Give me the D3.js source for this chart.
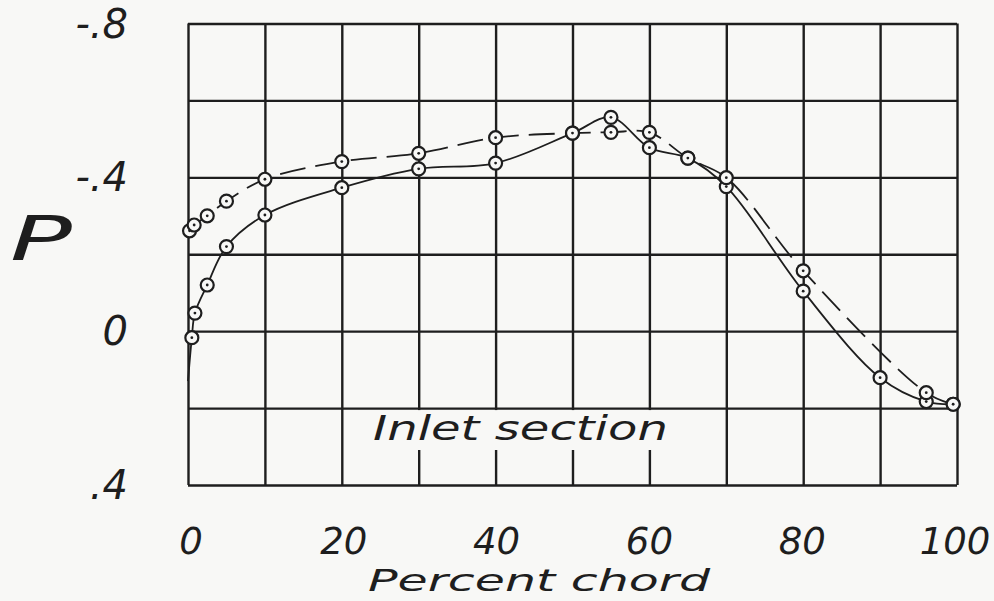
<!DOCTYPE html>
<html>
<head>
<meta charset="utf-8">
<script src="https://cdn.jsdelivr.net/npm/d3@7"></script>
<style>
  body { margin: 0; background: #f8f8f6; }
  svg { display: block; }
  text { font-family: "DejaVu Sans", sans-serif; font-style: oblique; fill: #1e1e1e; }
</style>
</head>
<body>
<div id="chart"></div>
<script>
// percent chord / pressure coefficient P
const solidChord = [0, 0.5, 0.9, 2.5, 5, 10, 20, 30, 40, 50, 55, 60, 65, 70, 80, 90, 96, 99.5];
const solidP = [0.13, 0.017, -0.047, -0.12, -0.22, -0.302, -0.373, -0.422, -0.437, -0.515, -0.556, -0.477, -0.45, -0.376, -0.104, 0.121, 0.183, 0.19];
const solidMarked = [false, true, true, true, true, true, true, true, true, true, true, true, true, true, true, true, true, true];

const dashedChord = [0.2, 0.8, 2.5, 5, 10, 20, 30, 40, 50, 55, 60, 65, 70, 80, 96, 99.5];
const dashedP = [-0.261, -0.276, -0.30, -0.338, -0.395, -0.441, -0.4625, -0.503, -0.515, -0.517, -0.517, -0.45, -0.399, -0.157, 0.160, 0.19];

const xGrid = [0, 10, 20, 30, 40, 50, 60, 70, 80, 90, 100];
const yGrid = [-0.8, -0.6, -0.4, -0.2, 0, 0.2, 0.4];
const xLabels = [0, 20, 40, 60, 80, 100];
const yLabels = [-0.8, -0.4, 0, 0.4];
const yLabelText = ["-.8", "-.4", "0", ".4"];

const W = 994, H = 601;
const ink = "#1e1e1e";
const paper = "#f8f8f6";

const svg = d3.select("#chart").append("svg")
    .attr("width", W)
    .attr("height", H);

const x = d3.scaleLinear().domain([0, 100]).range([188, 957]);
const y = d3.scaleLinear().domain([-0.8, 0.4]).range([23.5, 485]);

// grid
svg.append("g")
    .attr("transform", `translate(0, ${y(0.4)})`)
    .call(d3.axisBottom(x).tickValues(xGrid).tickSize(-(y(0.4) - y(-0.8))).tickFormat(""))
    .call(g => g.select(".domain").remove())
    .selectAll("line").attr("stroke", ink).attr("stroke-width", 2.4);

svg.append("g")
    .attr("transform", `translate(${x(0)}, 0)`)
    .call(d3.axisLeft(y).tickValues(yGrid).tickSize(-(x(100) - x(0))).tickFormat(""))
    .call(g => g.select(".domain").remove())
    .selectAll("line").attr("stroke", ink).attr("stroke-width", 2.4);

// labels
svg.append("g").selectAll("text")
    .data(xLabels)
    .join("text")
    .attr("x", d => x(d) + 3 - d * 0.05)
    .attr("y", 554)
    .attr("text-anchor", "middle")
    .attr("font-size", 37)
    .attr("font-weight", 300)
    .text(d => d);

svg.append("g").selectAll("text")
    .data(yLabels)
    .join("text")
    .attr("x", 128)
    .attr("y", d => y(d) + 14)
    .attr("text-anchor", "end")
    .attr("font-size", 40)
    .attr("font-weight", 300)
    .text((d, i) => yLabelText[i]);

svg.append("text")
    .attr("x", 10)
    .attr("y", 260)
    .attr("font-size", 60)
    .attr("font-weight", 300)
    .attr("textLength", 62)
    .attr("lengthAdjust", "spacingAndGlyphs")
    .text("P");

svg.append("text")
    .attr("x", 368)
    .attr("y", 591)
    .attr("font-size", 31)
    .attr("font-weight", 300)
    .attr("textLength", 342)
    .attr("lengthAdjust", "spacingAndGlyphs")
    .text("Percent chord");

// "Inlet section" sits on a blank patch of the grid
const note = svg.append("g");
const noteRect = note.append("rect").attr("fill", paper);
const noteText = note.append("text")
    .attr("x", 373)
    .attr("y", 440)
    .attr("font-size", 34)
    .attr("font-weight", 300)
    .attr("textLength", 295)
    .attr("lengthAdjust", "spacingAndGlyphs")
    .text("Inlet section");
const box = noteText.node().getBBox();
noteRect.attr("x", box.x - 20).attr("y", y(0.2) + 2)
    .attr("width", box.width + 40).attr("height", box.y + box.height - y(0.2));

// curves
const line = d3.line()
    .x(d => x(d[0]))
    .y(d => y(d[1]))
    .curve(d3.curveCatmullRom.alpha(0.5));

const solidData = solidChord.map((c, i) => [c, solidP[i]]);
const dashedData = dashedChord.map((c, i) => [c, dashedP[i]]);

svg.append("path")
    .datum(solidData)
    .attr("fill", "none")
    .attr("stroke", ink)
    .attr("stroke-width", 1.8)
    .attr("d", line);

svg.append("path")
    .datum(dashedData)
    .attr("fill", "none")
    .attr("stroke", ink)
    .attr("stroke-width", 1.8)
    .attr("stroke-dasharray", "26,10")
    .attr("d", line);

// markers: open circle with a dot in the middle
const markerData = [...solidData.filter((d, i) => solidMarked[i]), ...dashedData];

const markers = svg.append("g").selectAll("g")
    .data(markerData)
    .join("g")
    .attr("transform", d => `translate(${x(d[0])}, ${y(d[1])})`);

markers.append("circle")
    .attr("r", 6.5)
    .attr("fill", paper)
    .attr("stroke", ink)
    .attr("stroke-width", 2.2);

markers.append("circle")
    .attr("r", 1.4)
    .attr("fill", ink);
</script>
</body>
</html>
